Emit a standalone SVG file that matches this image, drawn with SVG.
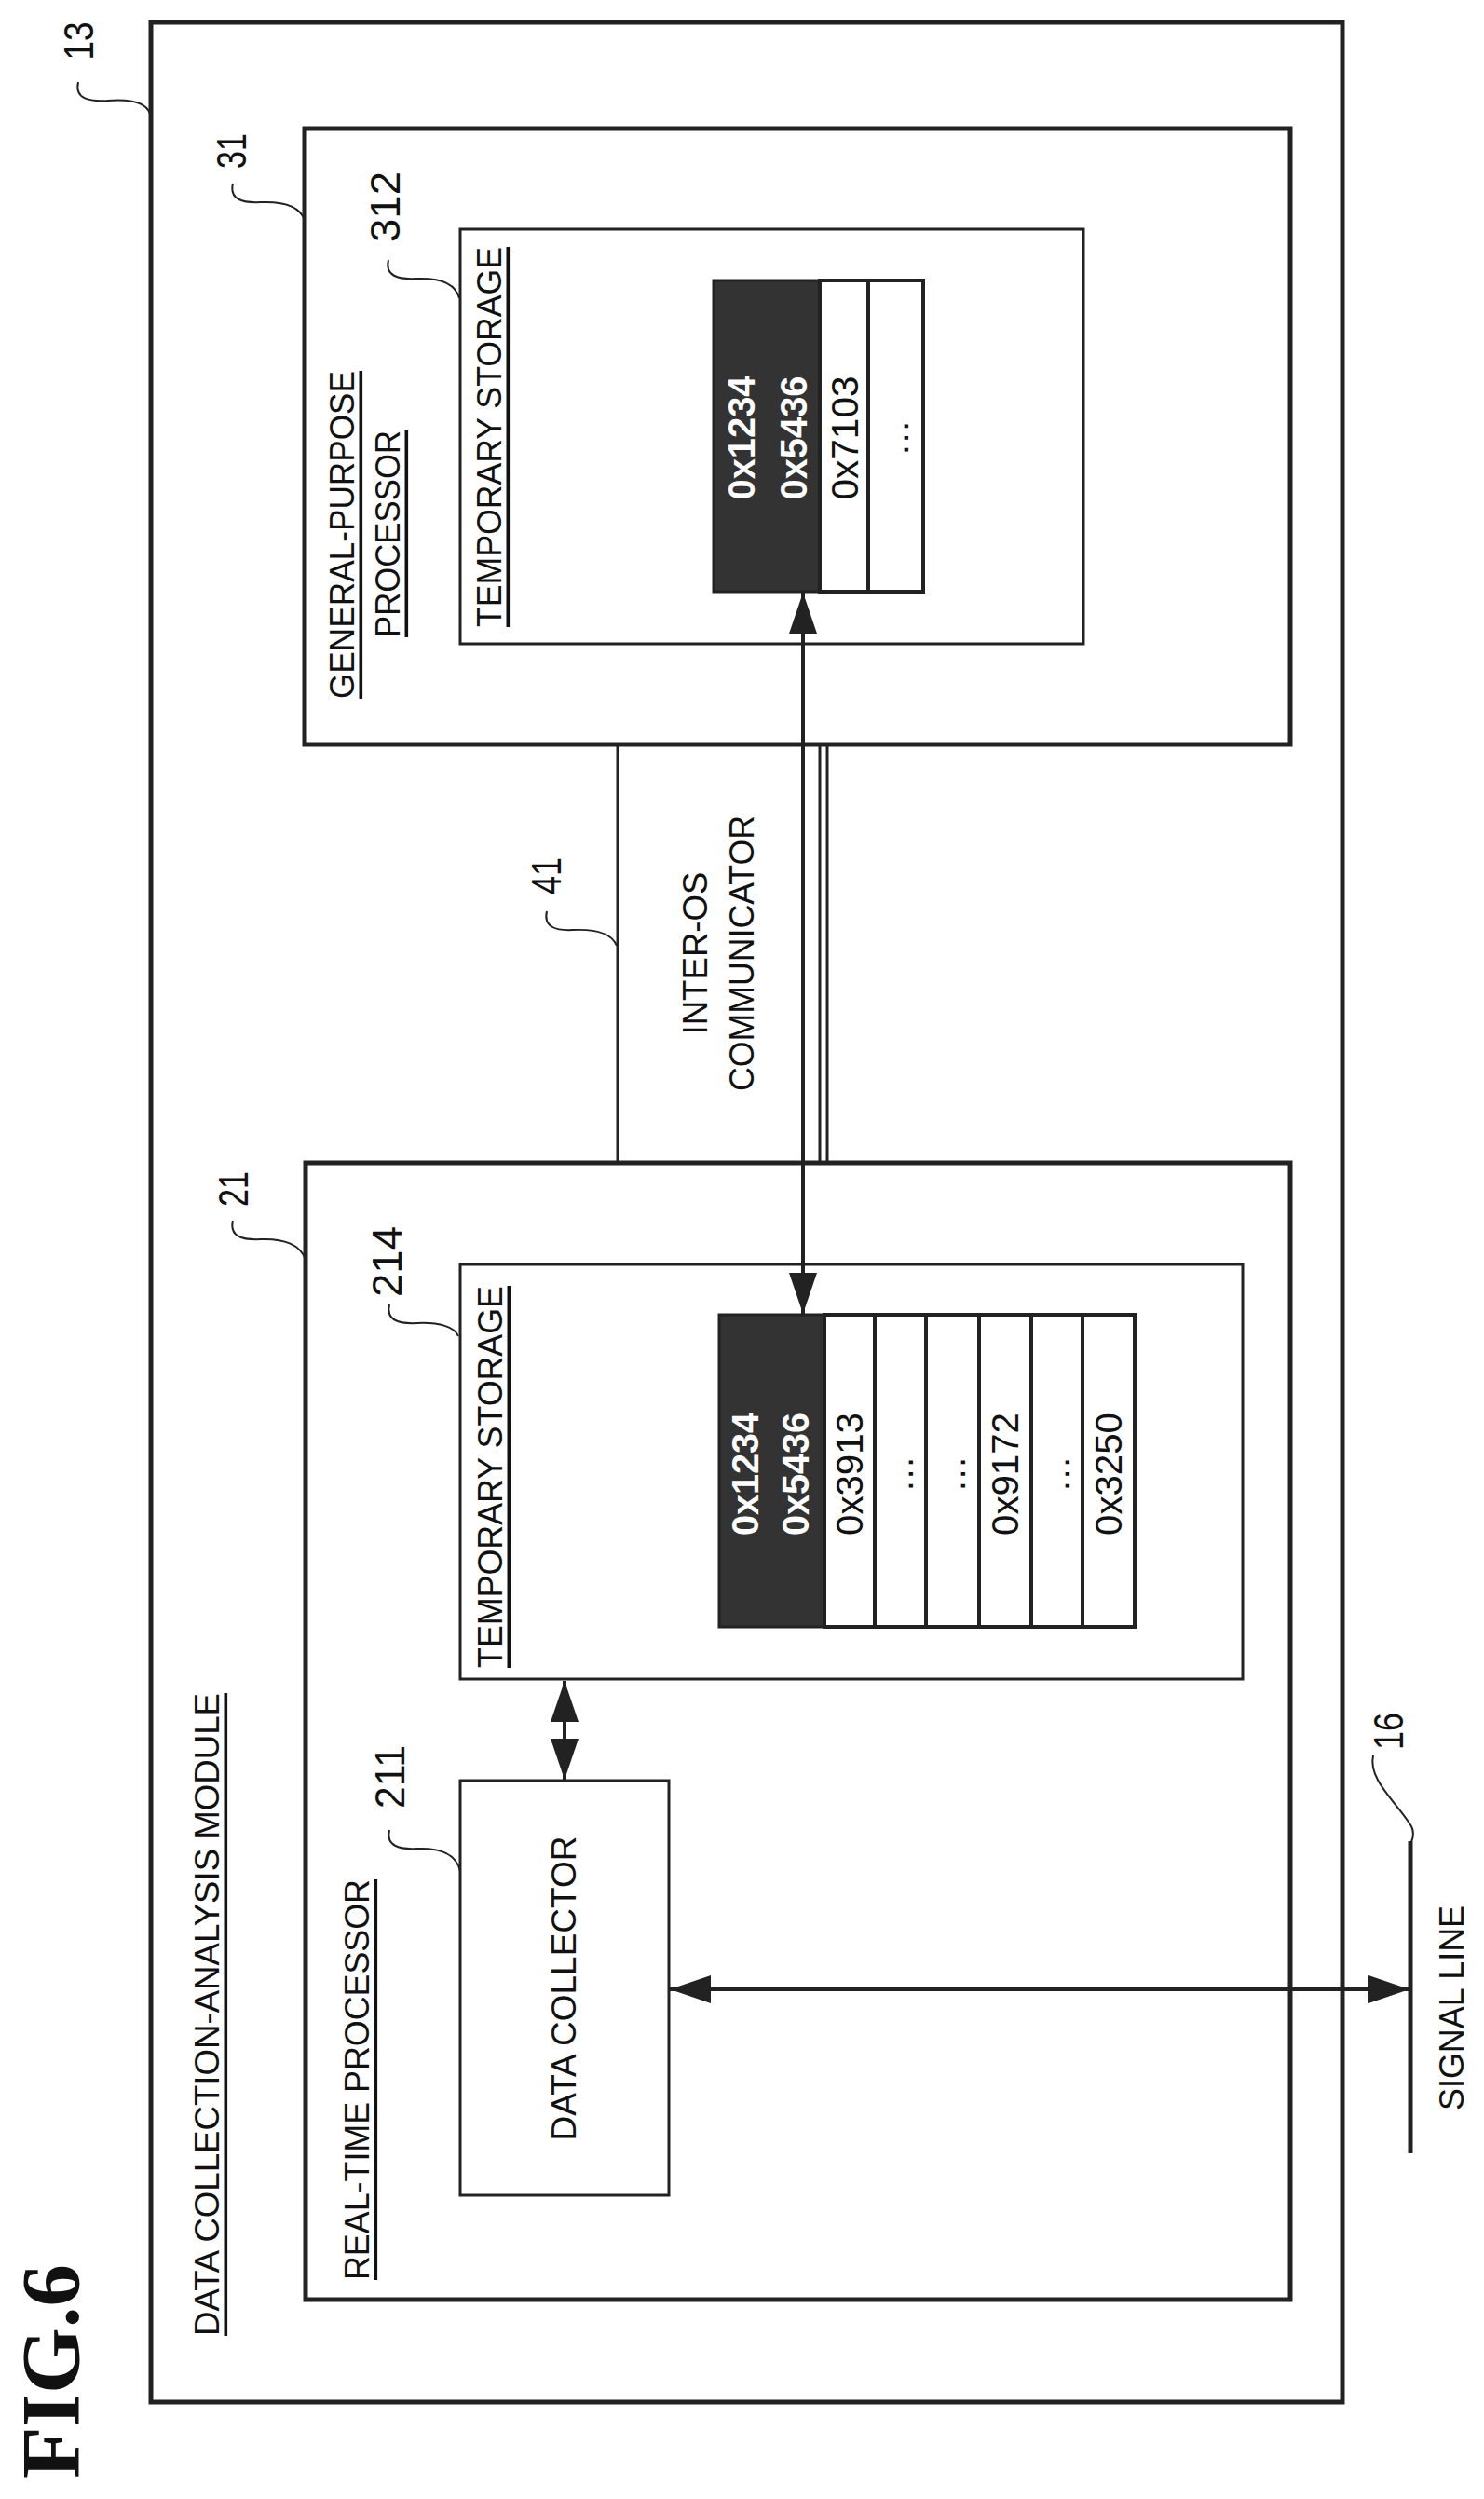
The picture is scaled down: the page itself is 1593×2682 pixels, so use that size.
<svg xmlns="http://www.w3.org/2000/svg" width="1593" height="2682" viewBox="0 0 1593 2682">
<style>
.box{fill:none;stroke:#222;stroke-width:5}
.thin{fill:none;stroke:#222;stroke-width:3}
.cell{fill:#fff;stroke:#222;stroke-width:4}
.dark{fill:#333;stroke:#222;stroke-width:3}
.t{font-family:"Liberation Sans",Arial,sans-serif;font-size:36px;fill:#111;text-anchor:middle;dominant-baseline:central}
.u{text-decoration:underline}
.w{fill:#fff;font-weight:bold;font-size:40px}
.c{font-size:40px}
.n{font-family:"Liberation Sans",Arial,sans-serif;font-size:44px;fill:#111;text-anchor:middle;dominant-baseline:central}
.lead{fill:none;stroke:#222;stroke-width:2}
.con{fill:none;stroke:#222;stroke-width:4}
</style>
<defs>
<marker id="ah" markerUnits="userSpaceOnUse" markerWidth="46" markerHeight="32" refX="44" refY="15" orient="auto-start-reverse" viewBox="0 0 46 32">
<path d="M0,0 L44,15 L0,30 z" fill="#222"/>
</marker>
</defs>
<rect width="1593" height="2682" fill="#fff"/>

<g id="n13">
<rect class="box" x="162" y="24" width="1279" height="2554"/>
<text class="t u" transform="translate(222,2162) rotate(-90)" textLength="690" lengthAdjust="spacingAndGlyphs">DATA COLLECTION-ANALYSIS MODULE</text>
<text class="n" transform="translate(84,44) rotate(-90)" textLength="41" lengthAdjust="spacingAndGlyphs">13</text>
<path class="lead" d="M84,88 C80,106 95,109 115,108 C140,106 157,110 161,122"/>
</g>

<g id="n31">
<rect class="box" x="327" y="138" width="1058" height="661"/>
<text class="t u" transform="translate(367,574) rotate(-90)" textLength="352" lengthAdjust="spacingAndGlyphs">GENERAL-PURPOSE</text>
<text class="t u" transform="translate(416,573) rotate(-90)" textLength="222" lengthAdjust="spacingAndGlyphs">PROCESSOR</text>
<text class="n" transform="translate(248,162) rotate(-90)" textLength="38" lengthAdjust="spacingAndGlyphs">31</text>
<path class="lead" d="M250,197 C246,214 260,218 280,217 C305,216 322,222 327,236"/>
</g>

<g id="n312">
<rect class="thin" x="494" y="246" width="669" height="445"/>
<text class="t u" transform="translate(525,469) rotate(-90)" textLength="408" lengthAdjust="spacingAndGlyphs">TEMPORARY STORAGE</text>
<rect class="dark" x="766" y="301" width="114" height="334"/>
<rect class="cell" x="880" y="301" width="52" height="334"/>
<rect class="cell" x="932" y="301" width="59" height="334"/>
<text class="t w" transform="translate(796,470) rotate(-90)" textLength="133" lengthAdjust="spacingAndGlyphs">0x1234</text>
<text class="t w" transform="translate(852,470) rotate(-90)" textLength="133" lengthAdjust="spacingAndGlyphs">0x5436</text>
<text class="t c" transform="translate(907,470) rotate(-90)" textLength="133" lengthAdjust="spacingAndGlyphs">0x7103</text>
<text class="t c" transform="translate(961,470) rotate(-90)">…</text>
<text class="n" transform="translate(413,222) rotate(-90)" textLength="76" lengthAdjust="spacingAndGlyphs">312</text>
<path class="lead" d="M417,279 C413,296 427,300 447,299 C472,298 489,304 493,320"/>
</g>

<g id="n41">
<rect class="thin" x="663" y="799" width="225" height="449"/>
<line class="thin" x1="880" y1="799" x2="880" y2="1248"/>
<text class="t" transform="translate(746,1023) rotate(-90)" textLength="175" lengthAdjust="spacingAndGlyphs">INTER-OS</text>
<text class="t" transform="translate(796,1023) rotate(-90)" textLength="296" lengthAdjust="spacingAndGlyphs">COMMUNICATOR</text>
<text class="n" transform="translate(586,940) rotate(-90)" textLength="40" lengthAdjust="spacingAndGlyphs">41</text>
<path class="lead" d="M587,978 C583,995 597,999 615,998 C640,997 657,1002 662,1015"/>
</g>

<g id="n21">
<rect class="box" x="328" y="1248" width="1057" height="1220"/>
<text class="t u" transform="translate(383,2232) rotate(-90)" textLength="430" lengthAdjust="spacingAndGlyphs">REAL-TIME PROCESSOR</text>
<text class="n" transform="translate(250,1276) rotate(-90)" textLength="38" lengthAdjust="spacingAndGlyphs">21</text>
<path class="lead" d="M250,1310 C246,1327 260,1331 280,1330 C305,1329 323,1336 328,1352"/>
</g>

<g id="n214">
<rect class="thin" x="494" y="1357" width="840" height="445"/>
<text class="t u" transform="translate(526,1585) rotate(-90)" textLength="410" lengthAdjust="spacingAndGlyphs">TEMPORARY STORAGE</text>
<rect class="dark" x="772" y="1411" width="113" height="335"/>
<rect class="cell" x="885" y="1411" width="54" height="335"/>
<rect class="cell" x="939" y="1411" width="55" height="335"/>
<rect class="cell" x="994" y="1411" width="57" height="335"/>
<rect class="cell" x="1051" y="1411" width="56" height="335"/>
<rect class="cell" x="1107" y="1411" width="55" height="335"/>
<rect class="cell" x="1162" y="1411" width="56" height="335"/>
<text class="t w" transform="translate(800,1582) rotate(-90)" textLength="132" lengthAdjust="spacingAndGlyphs">0x1234</text>
<text class="t w" transform="translate(854,1582) rotate(-90)" textLength="132" lengthAdjust="spacingAndGlyphs">0x5436</text>
<text class="t c" transform="translate(912,1582) rotate(-90)" textLength="132" lengthAdjust="spacingAndGlyphs">0x3913</text>
<text class="t c" transform="translate(966,1582) rotate(-90)">…</text>
<text class="t c" transform="translate(1022,1582) rotate(-90)">…</text>
<text class="t c" transform="translate(1079,1582) rotate(-90)" textLength="132" lengthAdjust="spacingAndGlyphs">0x9172</text>
<text class="t c" transform="translate(1134,1582) rotate(-90)">…</text>
<text class="t c" transform="translate(1190,1582) rotate(-90)" textLength="132" lengthAdjust="spacingAndGlyphs">0x3250</text>
<text class="n" transform="translate(415,1354) rotate(-90)" textLength="76" lengthAdjust="spacingAndGlyphs">214</text>
<path class="lead" d="M418,1400 C414,1417 428,1421 448,1420 C472,1419 488,1424 492,1434"/>
</g>

<g id="n211">
<rect class="thin" x="494" y="1911" width="224" height="445"/>
<text class="t" transform="translate(605,2134) rotate(-90)" textLength="327" lengthAdjust="spacingAndGlyphs">DATA COLLECTOR</text>
<text class="n" transform="translate(418,1907) rotate(-90)" textLength="68" lengthAdjust="spacingAndGlyphs">211</text>
<path class="lead" d="M418,1964 C414,1981 428,1985 448,1984 C472,1983 490,1990 494,2008"/>
</g>

<g id="n16">
<line x1="1514" y1="1976" x2="1514" y2="2311" stroke="#222" stroke-width="5"/>
<text class="t" transform="translate(1558,2155) rotate(-90)" textLength="220" lengthAdjust="spacingAndGlyphs">SIGNAL LINE</text>
<text class="n" transform="translate(1490,1858) rotate(-90)" textLength="40" lengthAdjust="spacingAndGlyphs">16</text>
<path class="lead" d="M1474,1884 C1468,1910 1500,1935 1515,1960 C1518,1966 1517,1972 1515,1977"/>
</g>

<g id="fig">
<text transform="translate(54,2545) rotate(-90)" font-family="Liberation Serif,serif" font-weight="bold" font-size="88" text-anchor="middle" dominant-baseline="central" fill="#111" textLength="230" lengthAdjust="spacingAndGlyphs">FIG.6</text>
</g>

<g id="connectors">
<line class="con" x1="862" y1="636" x2="862" y2="1410" marker-start="url(#ah)" marker-end="url(#ah)"/>
<line class="con" x1="606" y1="1804" x2="606" y2="1910" marker-start="url(#ah)" marker-end="url(#ah)"/>
<line class="con" x1="719" y1="2135" x2="1513" y2="2135" marker-start="url(#ah)" marker-end="url(#ah)"/>
</g>
</svg>
